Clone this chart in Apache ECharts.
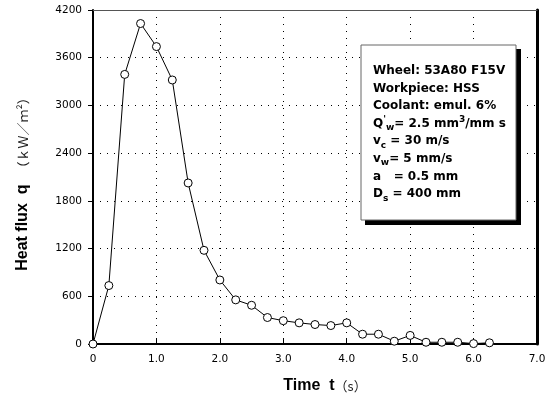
<!DOCTYPE html>
<html>
<head>
<meta charset="utf-8">
<script src="https://cdn.jsdelivr.net/npm/echarts@6/dist/echarts.min.js"></script>
<style>
html,body{margin:0;padding:0;background:#fff;}
#c{width:550px;height:402px;}
</style>
</head>
<body>
<div id="c"></div>
<script>
const timeS = [0, 0.25, 0.5, 0.75, 1.0, 1.25, 1.5, 1.75, 2.0, 2.25, 2.5, 2.75, 3.0, 3.25, 3.5, 3.75, 4.0, 4.25, 4.5, 4.75, 5.0, 5.25, 5.5, 5.75, 6.0, 6.25];
const heatFlux = [0, 735, 3390, 4030, 3740, 3320, 2025, 1178, 805, 555, 487, 333, 293, 266, 245, 232, 266, 123, 123, 35, 108, 22, 22, 22, 5, 15];
const xTickLabels = ['0', '1.0', '2.0', '3.0', '4.0', '5.0', '6.0', '7.0'];
const yTickLabels = ['0', '600', '1200', '1800', '2400', '3000', '3600', '4200'];

const chart = echarts.init(document.getElementById('c'));
const tickFont = {fontFamily: 'DejaVu Sans', fontSize: 10.5, color: '#000'};
const t = {fontFamily: 'DejaVu Sans', fontWeight: 'bold', fontSize: 12, lineHeight: 17.6, color: '#000'};
const sub = {fontFamily: 'DejaVu Sans', fontWeight: 'bold', fontSize: 9, lineHeight: 10, verticalAlign: 'bottom', color: '#000'};
const sup = {fontFamily: 'DejaVu Sans', fontWeight: 'bold', fontSize: 9, lineHeight: 10, verticalAlign: 'top', color: '#000'};

chart.setOption({
  animation: false,
  backgroundColor: '#fff',
  grid: {left: 93, right: 13, top: 10, bottom: 58},
  xAxis: [{
    type: 'value', min: 0, max: 7, interval: 1,
    name: '{b|Time  t}{n|（s）}', nameLocation: 'middle', nameGap: 34,
    nameTextStyle: {padding: [0, 0, 0, 20], rich: {
      b: {fontFamily: 'Liberation Sans', fontWeight: 'bold', fontSize: 16, color: '#000'},
      n: {fontFamily: 'Noto Sans CJK JP', fontSize: 13, color: '#222'}
    }},
    axisLine: {onZero: false, lineStyle: {color: '#000', width: 2}},
    axisTick: {inside: true, length: 6, lineStyle: {color: '#000'}},
    axisLabel: Object.assign({margin: 10, formatter: (v) => xTickLabels[Math.round(v)]}, tickFont),
    splitLine: {show: true, lineStyle: {color: '#000', type: [1, 6], width: 1}}
  }, {
    type: 'value', min: 0, max: 7, position: 'top',
    axisLine: {show: true, onZero: false, lineStyle: {color: '#555', width: 1}},
    axisTick: {show: false}, axisLabel: {show: false}, splitLine: {show: false}
  }],
  yAxis: [{
    type: 'value', min: 0, max: 4200, interval: 600,
    name: '{b|Heat flux  q}   {n|（ｋＷ／ｍ²）}', nameLocation: 'middle', nameGap: 62,
    nameTextStyle: {padding: [0, 8, 0, 0], rich: {
      b: {fontFamily: 'Liberation Sans', fontWeight: 'bold', fontSize: 16, color: '#000'},
      n: {fontFamily: 'Noto Sans CJK JP', fontSize: 13, color: '#222'}
    }},
    axisLine: {show: true, onZero: false, lineStyle: {color: '#000', width: 2}},
    axisTick: {show: true, inside: false, length: 5, lineStyle: {color: '#000'}},
    axisLabel: Object.assign({margin: 11, formatter: (v) => yTickLabels[Math.round(v / 600)]}, tickFont),
    splitLine: {show: true, lineStyle: {color: '#000', type: [1, 6], width: 1}}
  }, {
    type: 'value', min: 0, max: 4200, position: 'right',
    axisLine: {show: true, onZero: false, lineStyle: {color: '#000', width: 3}},
    axisTick: {show: false}, axisLabel: {show: false}, splitLine: {show: false}
  }],
  series: [{
    type: 'line',
    data: timeS.map((x, i) => [x, heatFlux[i]]),
    symbol: 'circle', symbolSize: 8,
    lineStyle: {color: '#000', width: 1},
    itemStyle: {color: '#fff', borderColor: '#000', borderWidth: 1},
    z: 5
  }],
  graphic: [
    {type: 'rect', shape: {x: 365, y: 49, width: 156, height: 176}, style: {fill: '#000'}, z: 10},
    {type: 'rect', shape: {x: 361, y: 45, width: 155, height: 175}, style: {fill: '#fff', stroke: '#666', lineWidth: 1}, z: 11},
    {type: 'text', x: 373, y: 62, z: 12, style: {
      text: '{t|Wheel: 53A80 F15V}\n{t|Workpiece: HSS}\n{t|Coolant: emul. 6%}\n{t|Q}{sup|\'}{sub|w}{t|= 2.5 mm}{sup|3}{t|/mm s}\n{t|v}{sub|c}{t| = 30 m/s}\n{t|v}{sub|w}{t|= 5 mm/s}\n{t|a   = 0.5 mm}\n{t|D}{sub|s}{t| = 400 mm}',
      verticalAlign: 'top', align: 'left',
      rich: {t: t, sub: sub, sup: sup}
    }}
  ]
});
</script>
</body>
</html>
